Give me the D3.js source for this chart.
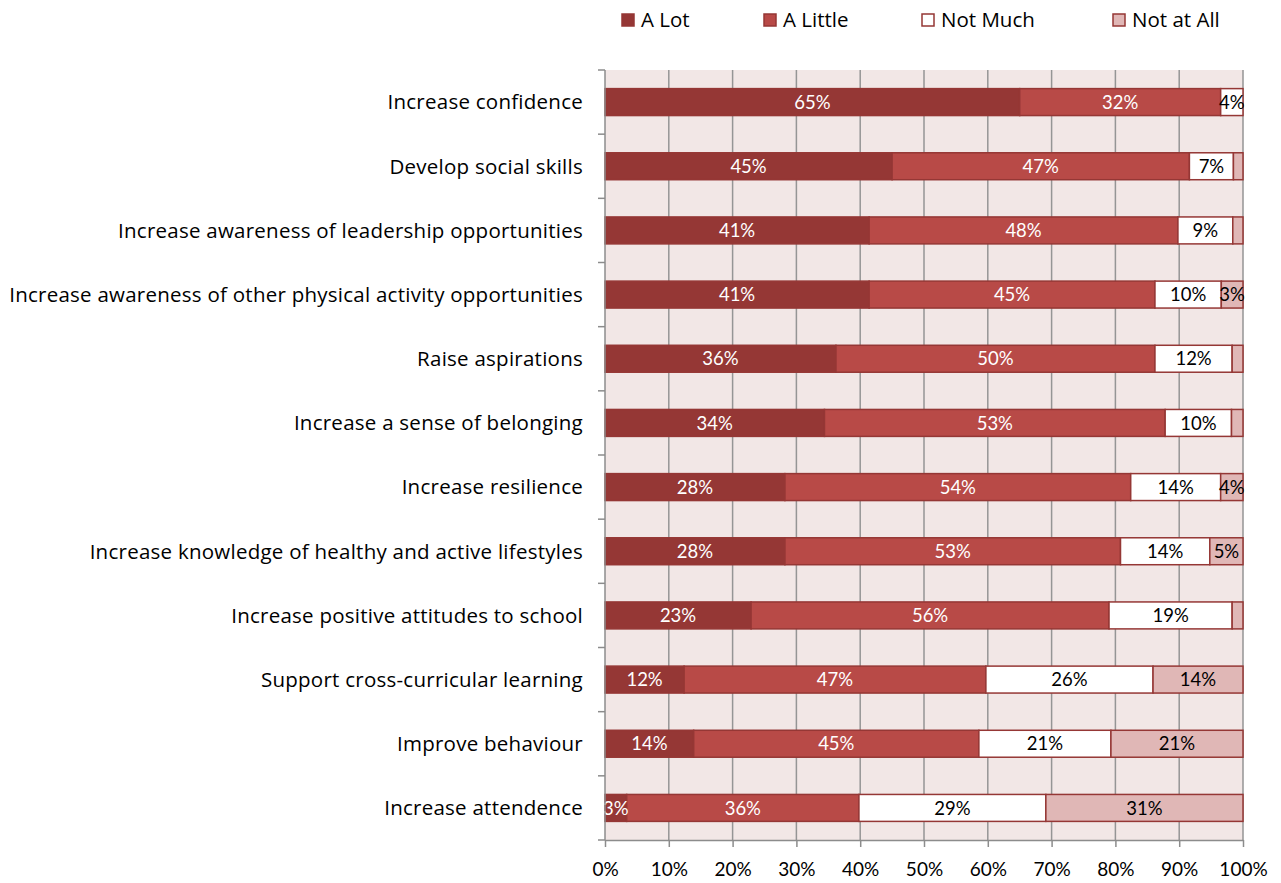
<!DOCTYPE html>
<html>
<head>
<meta charset="utf-8">
<script src="https://cdn.jsdelivr.net/npm/d3@7"></script>
<style>
  body { margin: 0; background: #fff; }
  svg { display: block; font-family: Lato, "Open Sans", sans-serif; }
  .axis text { font-size: 19px; fill: #000; }
  .cat { font-size: 20.5px; letter-spacing: 0.25px; fill: #000; font-family: "Open Sans", sans-serif; }
  .seg-label { font-size: 18.5px; }
  .legend text { font-size: 20.5px; fill: #000; font-family: "Open Sans", sans-serif; }
</style>
</head>
<body>
<svg id="chart" width="1281" height="883"></svg>
<script>
const categories = [
  'Increase confidence',
  'Develop social skills',
  'Increase awareness of leadership opportunities',
  'Increase awareness of other physical activity opportunities',
  'Raise aspirations',
  'Increase a sense of belonging',
  'Increase resilience',
  'Increase knowledge of healthy and active lifestyles',
  'Increase positive attitudes to school',
  'Support cross-curricular learning',
  'Improve behaviour',
  'Increase attendence'
];
const seriesNames = ['A Lot', 'A Little', 'Not Much', 'Not at All'];
const aLot = [65, 45, 41.4, 41.4, 36.2, 34.4, 28.2, 28.2, 22.9, 12.4, 13.9, 3.4];
const aLittle = [31.5, 46.6, 48.4, 44.8, 50, 53.4, 54.2, 52.6, 56.1, 47.3, 44.7, 36.4];
const notMuch = [3.5, 6.9, 8.6, 10.4, 12.1, 10.4, 14.1, 14.0, 19.3, 26.2, 20.7, 29.3];
const notAtAll = [0, 1.5, 1.6, 3.4, 1.7, 1.8, 3.5, 5.2, 1.7, 14.1, 20.7, 30.9];
const xTicks = [0, 10, 20, 30, 40, 50, 60, 70, 80, 90, 100];

const fills = ['#953735', '#b84a47', '#ffffff', '#e0b7b6'];
const textColors = ['#fff', '#fff', '#000', '#000'];
const stroke = '#953735';

const margin = { top: 70, right: 38, bottom: 43, left: 605 };
const width = 1281 - margin.left - margin.right;
const height = 883 - margin.top - margin.bottom;

const svg = d3.select('#chart');
const g = svg.append('g')
  .attr('transform', `translate(${margin.left}, ${margin.top})`);

const x = d3.scaleLinear().domain([0, 100]).range([0, width]);
const y = d3.scaleBand().domain(categories).range([0, height]).paddingInner(0.58).paddingOuter(0.29);
const yOuter = d3.scaleBand().domain(categories).range([0, height]);

// plot background
g.append('rect')
  .attr('width', width)
  .attr('height', height)
  .attr('fill', '#f2e7e6');

// vertical gridlines
g.selectAll('.grid')
  .data(xTicks.slice(1))
  .enter()
  .append('line')
  .attr('x1', d => x(d))
  .attr('x2', d => x(d))
  .attr('y1', 0)
  .attr('y2', height)
  .attr('stroke', '#959595')
  .attr('stroke-width', 1.5);

const stackData = categories.map((c, i) => {
  const vals = [aLot[i], aLittle[i], notMuch[i], notAtAll[i]];
  let acc = 0;
  return vals.map((v, k) => {
    const seg = { cat: c, k: k, v: v, x0: acc, x1: acc + v };
    acc += v;
    return seg;
  });
});

const rows = g.selectAll('.row')
  .data(stackData)
  .enter()
  .append('g')
  .attr('class', 'row');

rows.selectAll('rect')
  .data(d => d.filter(s => s.v > 0))
  .enter()
  .append('rect')
  .attr('x', d => x(d.x0))
  .attr('y', d => y(d.cat))
  .attr('width', d => x(d.x1) - x(d.x0))
  .attr('height', y.bandwidth())
  .attr('fill', d => fills[d.k])
  .attr('stroke', stroke)
  .attr('stroke-width', 1.5);

rows.selectAll('text')
  .data(d => d.filter(s => s.v >= 3))
  .enter()
  .append('text')
  .attr('class', 'seg-label')
  .attr('x', d => x((d.x0 + d.x1) / 2))
  .attr('y', d => y(d.cat) + y.bandwidth() / 2)
  .attr('dy', '0.36em')
  .attr('text-anchor', 'middle')
  .attr('fill', d => textColors[d.k])
  .text(d => Math.round(d.v) + '%');

// category labels
g.selectAll('.cat')
  .data(categories)
  .enter()
  .append('text')
  .attr('class', 'cat')
  .attr('x', -22)
  .attr('y', d => y(d) + y.bandwidth() / 2)
  .attr('dy', '0.36em')
  .attr('text-anchor', 'end')
  .text(d => d);

// y axis line + ticks at band edges
g.append('line')
  .attr('x1', 0).attr('x2', 0)
  .attr('y1', 0).attr('y2', height)
  .attr('stroke', '#8c8c8c').attr('stroke-width', 1.5);
g.selectAll('.ytick')
  .data(categories.concat(['end']))
  .enter()
  .append('line')
  .attr('x1', -7).attr('x2', 0)
  .attr('y1', (d, i) => i * yOuter.step())
  .attr('y2', (d, i) => i * yOuter.step())
  .attr('stroke', '#8c8c8c').attr('stroke-width', 1.5);

// x axis
const xAxis = g.append('g')
  .attr('class', 'axis')
  .attr('transform', `translate(0, ${height})`)
  .call(d3.axisBottom(x).tickValues(xTicks).tickFormat(d => d + '%').tickSize(7).tickSizeOuter(0));
xAxis.select('.domain').attr('stroke', '#8c8c8c').attr('stroke-width', 1.5);
xAxis.selectAll('.tick line').attr('stroke', '#8c8c8c').attr('stroke-width', 1.5);
xAxis.selectAll('.tick text').attr('dy', '1.35em').style('font-family', 'Lato, sans-serif');

// legend
const legendX = [622, 764, 922, 1113];
const legend = svg.append('g').attr('class', 'legend');
const items = legend.selectAll('g')
  .data(seriesNames)
  .enter()
  .append('g')
  .attr('transform', (d, i) => `translate(${legendX[i]}, 14)`);
items.append('rect')
  .attr('width', 12)
  .attr('height', 12)
  .attr('fill', (d, i) => fills[i])
  .attr('stroke', stroke)
  .attr('stroke-width', 1.5);
items.append('text')
  .attr('x', 19)
  .attr('y', 6)
  .attr('dy', '0.36em')
  .text(d => d);
</script>
</body>
</html>
